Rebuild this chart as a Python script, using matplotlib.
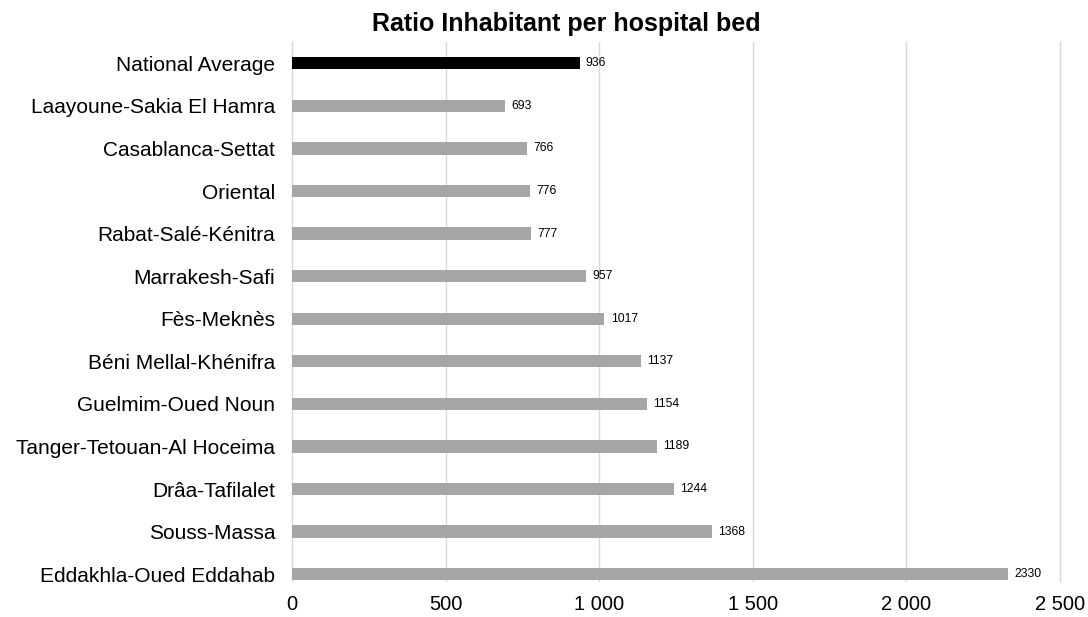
import matplotlib.pyplot as plt
from matplotlib.ticker import FuncFormatter

regions = [
    "National Average",
    "Laayoune-Sakia El Hamra",
    "Casablanca-Settat",
    "Oriental",
    "Rabat-Salé-Kénitra",
    "Marrakesh-Safi",
    "Fès-Meknès",
    "Béni Mellal-Khénifra",
    "Guelmim-Oued Noun",
    "Tanger-Tetouan-Al Hoceima",
    "Drâa-Tafilalet",
    "Souss-Massa",
    "Eddakhla-Oued Eddahab",
]
ratios = [936, 693, 766, 776, 777, 957, 1017, 1137, 1154, 1189, 1244, 1368, 2330]

plt.rcParams['font.family'] = ['Liberation Sans', 'DejaVu Sans']

fig = plt.figure(figsize=(10.88, 6.17), dpi=100)
ax = fig.add_axes([292 / 1088, 1 - 581 / 617, 768 / 1088, (581 - 42) / 617])

colors = ['#000000'] + ['#a6a6a6'] * (len(regions) - 1)
pos = list(range(len(regions)))
ax.barh(pos, ratios, height=0.29, color=colors, zorder=2)

for y, v in zip(pos, ratios):
    ax.annotate(str(v), (v, y), xytext=(4.5, 0), textcoords='offset points',
                va='center', ha='left', fontsize=8.7, color='#000000')

ax.set_xlim(0, 2500)
ax.set_ylim(12.16, -0.5)
ax.set_yticks(pos)
ax.set_yticklabels(regions, fontsize=15)
ax.set_xticks([0, 500, 1000, 1500, 2000, 2500])
ax.xaxis.set_major_formatter(FuncFormatter(lambda x, p: f"{int(x):,}".replace(",", " ")))
ax.tick_params(axis='x', labelsize=14.5, length=0, pad=10)
ax.tick_params(axis='y', length=0, pad=12)
ax.grid(axis='x', color='#d9d9d9', linewidth=1, zorder=0, clip_on=False)
for s in ax.spines.values():
    s.set_visible(False)

fig.suptitle("Ratio Inhabitant per hospital bed", fontsize=18, fontweight='bold',
             x=566 / 1088, y=0.98)

fig.savefig("out.png", dpi=100)
